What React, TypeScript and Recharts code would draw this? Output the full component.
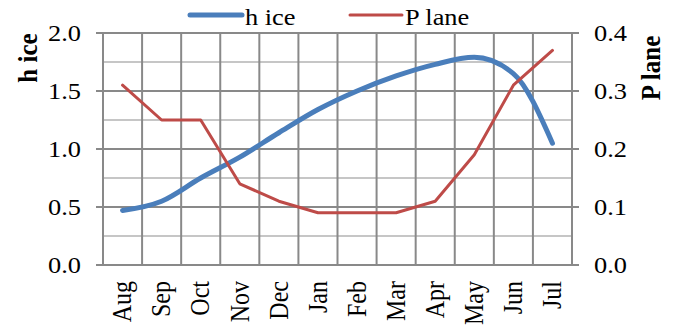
import React from 'react';
import { LineChart, Line, XAxis, YAxis, CartesianGrid, ReferenceLine, Label } from 'recharts';

// Monthly ice thickness (left axis) and lane probability (right axis)
const months = ['Aug', 'Sep', 'Oct', 'Nov', 'Dec', 'Jan', 'Feb', 'Mar', 'Apr', 'May', 'Jun', 'Jul'];
const hIce = [0.47, 0.55, 0.75, 0.93, 1.14, 1.34, 1.5, 1.63, 1.73, 1.79, 1.65, 1.05];
const pLane = [0.31, 0.25, 0.25, 0.14, 0.11, 0.09, 0.09, 0.09, 0.11, 0.19, 0.31, 0.37];
const hIceTicks = [0, 0.5, 1.0, 1.5, 2.0];
const hIceMinorTicks = [0.25, 0.75, 1.25, 1.75];
const pLaneTicks = [0, 0.1, 0.2, 0.3, 0.4];

const monthIndex = months.map((_, i) => i);
const monthBounds = [...months.map((_, i) => i - 0.5), months.length - 0.5];
const data = months.map((m, i) => ({ i, month: m, hIce: hIce[i], pLane: pLane[i] }));

const BLUE = '#4A7EBB';
const RED = '#BE4B48';
const GRID = '#898989';
const GRID_MINOR = '#c6c6c6';
const FONT = '"Liberation Serif", "Times New Roman", serif';
const FONT_SIZE = 24;
const STRETCH = 1.1;

const series = [
  { key: 'hIce', name: 'h ice', color: BLUE, width: 5, axis: 'left', curve: 'monotone' as const },
  { key: 'pLane', name: 'P lane', color: RED, width: 3, axis: 'right', curve: 'linear' as const },
];

const W = 687;
const H = 329;

const YTick = (props: any) => {
  const { x, y, payload, anchor } = props;
  return (
    <text
      transform={`translate(${x},${y}) scale(${STRETCH},1)`}
      textAnchor={anchor}
      dy="0.34em"
      fontFamily={FONT}
      fontSize={FONT_SIZE}
      fill="#000"
    >
      {Number(payload.value).toFixed(1)}
    </text>
  );
};

const MonthTick = (props: any) => {
  const { x, y, payload } = props;
  return (
    <text
      transform={`translate(${x},${y}) scale(${STRETCH},1) rotate(-90)`}
      textAnchor="end"
      dy="0.33em"
      fontFamily={FONT}
      fontSize={FONT_SIZE}
      fill="#000"
    >
      {months[payload.value]}
    </text>
  );
};

const axisTitle = (text: string, dx: number, dy: number) => (props: any) => {
  const vb = props.viewBox || {};
  return (
    <text
      transform={`translate(${vb.x + dx},${vb.y + dy}) scale(${STRETCH},1) rotate(-90)`}
      textAnchor="middle"
      fontFamily={FONT}
      fontSize={25}
      fontWeight="bold"
      fill="#000"
    >
      {text}
    </text>
  );
};

const legendX = [190, 350];

const ChartLegend = () => (
  <svg width={W} height={32} style={{ position: 'absolute', left: 0, top: 0 }}>
    {series.map((s, k) => (
      <g key={s.key} transform={`translate(${legendX[k]},0)`}>
        <line x1={0} y1={15} x2={52} y2={15} stroke={s.color} strokeWidth={s.width} strokeLinecap="round" />
        <text
          transform={`translate(55,25) scale(${STRETCH},1)`}
          fontFamily={FONT}
          fontSize={FONT_SIZE}
          fill="#000"
        >
          {s.name}
        </text>
      </g>
    ))}
  </svg>
);

export default function App() {
  return (
    <div style={{ position: 'absolute', left: 0, top: 0, width: W, height: H, background: '#fff' }}>
      <LineChart width={W} height={H} data={data} margin={{ top: 33, right: 0, bottom: 0, left: 0 }}>
        <XAxis
          dataKey="i"
          type="number"
          domain={[-0.5, 11.5]}
          ticks={monthIndex}
          interval={0}
          height={64}
          tickLine={false}
          tickSize={6}
          tickMargin={10}
          axisLine={{ stroke: GRID, strokeWidth: 2 }}
          tick={<MonthTick />}
        />
        <YAxis
          yAxisId="left"
          orientation="left"
          width={103}
          domain={[0, 2]}
          ticks={hIceTicks}
          interval={0}
          tickSize={7}
          tickMargin={15}
          axisLine={{ stroke: GRID, strokeWidth: 2 }}
          tickLine={{ stroke: GRID, strokeWidth: 2 }}
          tick={<YTick anchor="end" />}
        >
          <Label content={axisTitle('h ice', 37, 25)} />
        </YAxis>
        <YAxis
          yAxisId="right"
          orientation="right"
          width={115}
          domain={[0, 0.4]}
          ticks={pLaneTicks}
          interval={0}
          tickSize={7}
          tickMargin={15}
          axisLine={{ stroke: GRID, strokeWidth: 2 }}
          tickLine={{ stroke: GRID, strokeWidth: 2 }}
          tick={<YTick anchor="start" />}
        >
          <Label content={axisTitle('P lane', 88, 35)} />
        </YAxis>
        {hIceMinorTicks.map((v) => (
          <ReferenceLine key={`m${v}`} yAxisId="left" y={v} stroke={GRID_MINOR} strokeWidth={2} />
        ))}
        <CartesianGrid yAxisId="left" vertical={false} stroke={GRID} strokeWidth={2} />
        {monthBounds.map((v) => (
          <ReferenceLine key={`b${v}`} yAxisId="left" x={v} stroke={GRID} strokeWidth={2} />
        ))}
        {series.map((s) => (
          <Line
            key={s.key}
            yAxisId={s.axis}
            dataKey={s.key}
            name={s.name}
            type={s.curve}
            stroke={s.color}
            strokeWidth={s.width}
            strokeLinecap="round"
            strokeLinejoin="round"
            dot={false}
            activeDot={false}
            isAnimationActive={false}
          />
        ))}
      </LineChart>
      <ChartLegend />
    </div>
  );
}
